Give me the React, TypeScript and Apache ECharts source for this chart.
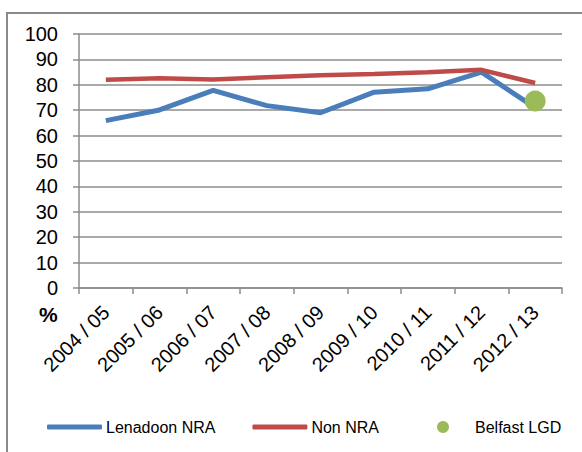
import React, { useEffect, useRef } from "react";
import * as echarts from "echarts";

const categories = [
  "2004 / 05", "2005 / 06", "2006 / 07", "2007 / 08", "2008 / 09",
  "2009 / 10", "2010 / 11", "2011 / 12", "2012 / 13",
];
const lenadoonNRA = [65.9, 70.1, 77.8, 71.8, 69.0, 77.1, 78.4, 85.0, 71.0];
const nonNRA = [82.0, 82.6, 82.1, 83.0, 83.8, 84.3, 84.9, 85.9, 80.7];
const belfastLGD: [string, number][] = [["2012 / 13", 73.6]];
const yTicks = { min: 0, max: 100, interval: 10 };

const FONT = "'Liberation Sans', Arial, sans-serif";
const BLUE = "#4A7EBB";
const RED = "#BE4B48";
const GREEN = "#9BBB59";
const GRID = "#8C8C8C";

export default function App() {
  const ref = useRef<HTMLDivElement>(null);
  useEffect(() => {
    if (!ref.current) return;
    const chart = echarts.init(ref.current, null, { renderer: "svg" });
    chart.setOption({
      animation: false,
      backgroundColor: "#ffffff",
      textStyle: { fontFamily: FONT },
      grid: { left: 79, top: 34, right: 20, bottom: 164, containLabel: false },
      graphic: [
        {
          type: "rect",
          shape: { x: 7, y: 13, width: 700, height: 600 },
          style: { fill: "none", stroke: "#898989", lineWidth: 2 },
          silent: true,
        },
        {
          type: "text",
          left: 39,
          top: 304,
          style: { text: "%", font: `bold 21px ${FONT}`, fill: "#000" },
        },
      ],
      legend: [
        {
          left: 42,
          top: 414,
          itemWidth: 55,
          itemHeight: 5,
          itemGap: 37,
          icon: "roundRect",
          textStyle: { fontSize: 16, color: "#000", fontFamily: FONT, padding: [0, 0, 0, -1] },
          data: ["Lenadoon NRA", "Non NRA"],
        },
        {
          left: 432,
          top: 414,
          itemWidth: 54,
          itemHeight: 12,
          icon: "circle",
          textStyle: { fontSize: 16, color: "#000", fontFamily: FONT },
          data: ["Belfast LGD"],
        },
      ],
      xAxis: {
        type: "category",
        data: categories,
        boundaryGap: true,
        axisLine: { lineStyle: { color: GRID, width: 1.5 } },
        axisTick: { show: true, length: 6, lineStyle: { color: GRID, width: 1.5 } },
        axisLabel: {
          rotate: 45,
          margin: 21,
          fontSize: 20,
          color: "#000",
          fontFamily: FONT,
          interval: 0,
          verticalAlign: "middle",
          padding: [14, 0, 0, 0],
        },
        splitLine: { show: false },
      },
      yAxis: {
        type: "value",
        min: yTicks.min,
        max: yTicks.max,
        interval: yTicks.interval,
        axisLine: { show: true, lineStyle: { color: GRID, width: 1.5 } },
        axisTick: { show: true, length: 6, lineStyle: { color: GRID, width: 1.5 } },
        axisLabel: { margin: 21, fontSize: 20, color: "#000", fontFamily: FONT },
        splitLine: { show: true, lineStyle: { color: GRID, width: 1.5 } },
      },
      series: [
        {
          name: "Lenadoon NRA",
          type: "line",
          data: lenadoonNRA,
          showSymbol: false,
          symbol: "none",
          color: BLUE,
          lineStyle: { color: BLUE, width: 5 },
          z: 2,
        },
        {
          name: "Non NRA",
          type: "line",
          data: nonNRA,
          showSymbol: false,
          symbol: "none",
          color: RED,
          lineStyle: { color: RED, width: 4.5 },
          z: 3,
        },
        {
          name: "Belfast LGD",
          type: "scatter",
          data: belfastLGD,
          symbol: "circle",
          symbolSize: 21,
          color: GREEN,
          itemStyle: { color: GREEN, opacity: 1 },
          z: 4,
        },
      ],
    });
    return () => chart.dispose();
  }, []);
  return (
    <div
      ref={ref}
      style={{ position: "fixed", left: 0, top: 0, width: 582, height: 452 }}
    />
  );
}
